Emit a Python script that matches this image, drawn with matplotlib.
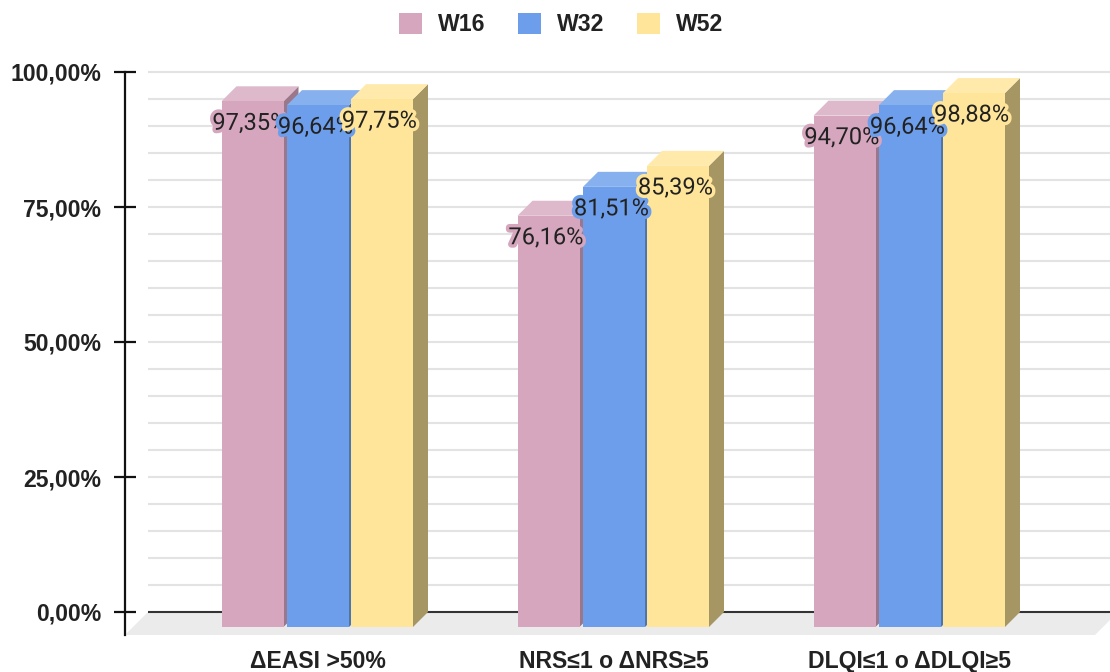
import matplotlib
matplotlib.use("Agg")
import matplotlib.pyplot as plt
from matplotlib.patches import Polygon, Rectangle, Patch
import matplotlib.patheffects as pe
import numpy as np

# ---- data ----
categories = ["ΔEASI >50%", "NRS≤1 o ΔNRS≥5", "DLQI≤1 o ΔDLQI≥5"]
series_names = ["W16", "W32", "W52"]
w16 = [97.35, 76.16, 94.70]
w32 = [96.64, 81.51, 96.64]
w52 = [97.75, 85.39, 98.88]
y_ticks = [0, 25, 50, 75, 100]

# ---- style ----
front_colors = ["#D5A6BD", "#6D9EEB", "#FFE599"]
top_colors = ["#DEB8CB", "#86B0EE", "#FFEAAC"]
side_colors = ["#9A788A", "#4F73AB", "#A69664"]
text_color = "#222222"
label_font = ["Liberation Sans", "DejaVu Sans"]
bold_size = 16.6

W, H, DPI = 1110, 672, 100
fig = plt.figure(figsize=(W / DPI, H / DPI), dpi=DPI)
fig.patch.set_facecolor("white")

# axes spans from the y spine to the right edge, from the floor front edge to 100 %
ax_left_px, ax_right_px = 125, 1110
ax_top_px, ax_bottom_px = 72, 635
ax = fig.add_axes([ax_left_px / W, (H - ax_bottom_px) / H,
                   (ax_right_px - ax_left_px) / W, (ax_bottom_px - ax_top_px) / H])

px_per_x = 296.0            # pixels per category step
px_per_pct = 5.4            # pixels per percentage point
x0_px = 318.0               # pixel position of category 0
floor_depth_px = 23.0
bar_depth_px = 15.0

xmin = (ax_left_px - x0_px) / px_per_x
xmax = (ax_right_px - x0_px) / px_per_x
floor_dx = floor_depth_px / px_per_x
floor_dy = floor_depth_px / px_per_pct
bar_dx = bar_depth_px / px_per_x
bar_dy = bar_depth_px / px_per_pct
ymin = -floor_dy

ax.set_xlim(xmin, xmax)
ax.set_ylim(ymin, 100)

# floor
floor_right = (1095 - x0_px) / px_per_x
ax.add_patch(Polygon([(xmin, ymin), (floor_right, ymin),
                      (floor_right + floor_dx, 0), (xmin + floor_dx, 0)],
                     closed=True, facecolor="#EBEBEB", edgecolor="none", zorder=1))

# back-plane gridlines
back_left = xmin + floor_dx
for g in range(5, 101, 5):
    ax.plot([back_left, xmax], [g, g], color="#E3E3E3", lw=1.5, zorder=1.5,
            solid_capstyle="butt", clip_on=False)
ax.plot([back_left, xmax], [0, 0], color="#333333", lw=1.5, zorder=1.6,
        solid_capstyle="butt")

# bars
bar_w = 62.0 / px_per_x
offsets = np.array([-65.5, 0.0, 64.0]) / px_per_x
series = [w16, w32, w52]
z = 2
for ci in range(len(categories)):
    for si, vals in enumerate(series):
        v = vals[ci]
        xc = ci + offsets[si]
        xl, xr = xc - bar_w / 2, xc + bar_w / 2
        yb, yt = -bar_dy, v - bar_dy
        side = Polygon([(xr, yb), (xr + bar_dx, 0), (xr + bar_dx, v), (xr, yt)],
                       closed=True, facecolor=side_colors[si], edgecolor="none", zorder=z)
        top = Polygon([(xl, yt), (xr, yt), (xr + bar_dx, v), (xl + bar_dx, v)],
                      closed=True, facecolor=top_colors[si], edgecolor="none", zorder=z)
        front = Rectangle((xl, yb), bar_w, v, facecolor=front_colors[si],
                          edgecolor="none", zorder=z + 0.1)
        ax.add_patch(side)
        ax.add_patch(top)
        ax.add_patch(front)
        z += 0.2
        lbl = f"{v:.2f}%".replace(".", ",")
        ax.text(xc - 2.5 / px_per_x, yt - 22 / px_per_pct, lbl, ha="center", va="center",
                fontsize=17, family=["Roboto", "DejaVu Sans"], color=text_color,
                zorder=20,
                path_effects=[pe.withStroke(linewidth=5, foreground=front_colors[si])])

# axes styling
for s in ["top", "right", "bottom"]:
    ax.spines[s].set_visible(False)
ax.spines["left"].set_linewidth(1.6)
ax.spines["left"].set_color("#111111")
ax.set_yticks(y_ticks)
ax.set_yticklabels([f"{t:.2f}%".replace(".", ",") for t in y_ticks],
                   fontsize=bold_size, fontweight="bold", family=label_font, color=text_color)
ax.tick_params(axis="y", direction="inout", length=16.5, width=1.6, pad=9, color="#111111")
ax.set_xticks(range(len(categories)))
ax.set_xticklabels(categories, fontsize=bold_size, fontweight="bold", family=label_font,
                   color=text_color)
ax.tick_params(axis="x", length=0, pad=10.5)
ax.set_facecolor("white")

# legend
handles = [Patch(facecolor=c, edgecolor="none", label=n)
           for c, n in zip(front_colors, series_names)]
fig.legend(handles=handles, loc="center", bbox_to_anchor=(561 / W, 1 - 24.5 / H),
           ncol=3, frameon=False, handlelength=1.0, handleheight=1.0,
           handletextpad=0.7, columnspacing=1.4,
           prop={"family": label_font, "weight": "bold", "size": bold_size})
for t in fig.legends[0].get_texts():
    t.set_color(text_color)

fig.savefig("out.png", dpi=DPI, facecolor="white")
